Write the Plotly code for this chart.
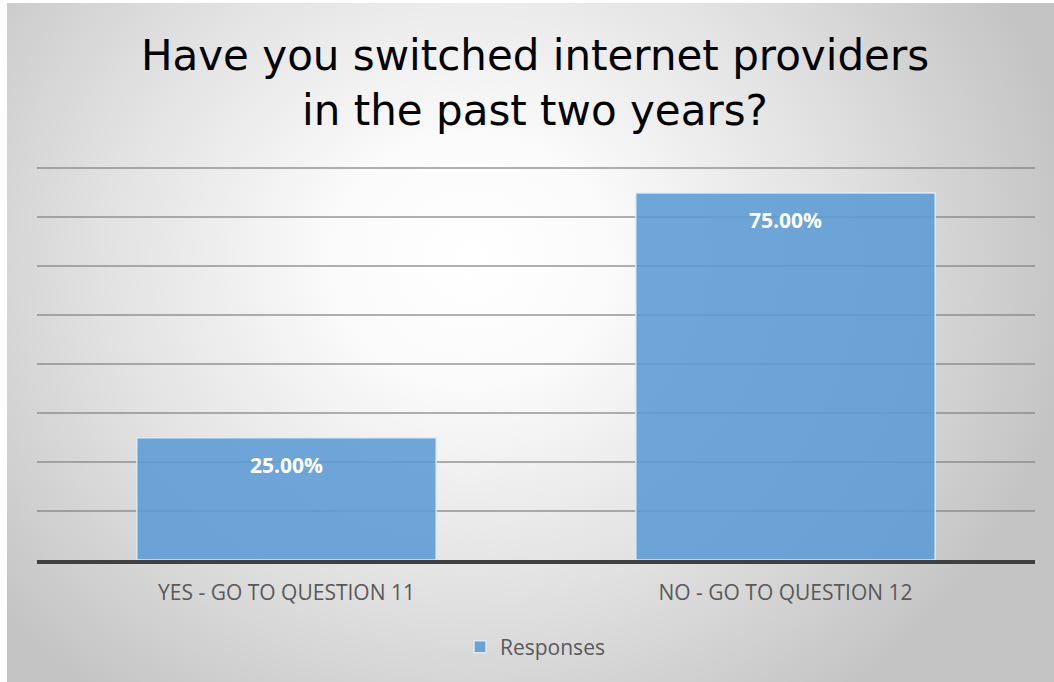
import base64
import plotly.graph_objects as go

# Survey data
categories = ["YES - GO TO QUESTION 11", "NO - GO TO QUESTION 12"]
responses = [0.25, 0.75]
series_name = "Responses"
title_text = "Have you switched internet providers<br>in the past two years?"
y_ticks = [0.0, 0.1, 0.2, 0.3, 0.4, 0.5, 0.6, 0.7, 0.8]

W, H = 1054, 682
BODY_FONT = "Open Sans, Lato, sans-serif"

# Radial-gradient backdrop for the chart area
bg_svg = f"""<svg xmlns='http://www.w3.org/2000/svg' width='{W}' height='{H}' viewBox='0 0 {W} {H}'>
<defs>
<radialGradient id='g' gradientUnits='userSpaceOnUse' cx='470' cy='260' r='580'
  gradientTransform='translate(470 260) scale(1.05 0.95) translate(-470 -260)'>
<stop offset='0' stop-color='#ffffff'/>
<stop offset='0.22' stop-color='#fbfbfb'/>
<stop offset='0.6' stop-color='#e2e2e2'/>
<stop offset='1' stop-color='#c4c4c4'/>
</radialGradient>
</defs>
<rect x='0' y='0' width='{W}' height='{H}' fill='#ffffff'/>
<rect x='7' y='3' width='{W - 7}' height='{H - 3}' fill='url(#g)'/>
</svg>"""
bg_uri = "data:image/svg+xml;base64," + base64.b64encode(bg_svg.encode()).decode()

fig = go.Figure()
fig.add_trace(go.Bar(
    x=categories,
    y=responses,
    name=series_name,
    width=0.6,
    marker=dict(color="rgba(91,155,213,0.88)",
                line=dict(color="rgba(225,236,248,0.9)", width=1.5)),
    showlegend=True,
    hoverinfo="x+y",
))

# Value labels near the top of each bar
for cat, val in zip(categories, responses):
    fig.add_annotation(
        x=cat, y=val, xref="x", yref="y",
        text=f"{val * 100:.2f}%",
        showarrow=False, yanchor="middle", yshift=-27,
        font=dict(family=BODY_FONT, size=21, color="white", weight="bold"),
    )

fig.update_layout(
    width=W, height=H,
    margin=dict(l=0, r=0, t=0, b=0),
    paper_bgcolor="white",
    plot_bgcolor="rgba(0,0,0,0)",
    images=[dict(source=bg_uri, xref="paper", yref="paper", x=0, y=1,
                 sizex=1, sizey=1, sizing="stretch", layer="below",
                 xanchor="left", yanchor="top")],
    title=dict(text=title_text, x=535 / W, xanchor="center",
               y=1 - 70 / H, yanchor="middle",
               font=dict(family="DejaVu Sans, Liberation Sans, sans-serif",
                         size=42, color="black")),
    xaxis=dict(domain=[37 / W, 1035 / W], showgrid=False,
               showline=True, linecolor="#404040", linewidth=4,
               ticks="", ticklabelstandoff=11,
               tickfont=dict(family=BODY_FONT, size=21, color="#595959")),
    yaxis=dict(domain=[1 - 560 / H, 1 - 166 / H], range=[0, 0.805],
               tickvals=y_ticks, showticklabels=False,
               showgrid=True, gridcolor="rgba(125,125,125,0.6)", gridwidth=1.5,
               zeroline=False, showline=False),
    legend=dict(orientation="h", x=535 / W, xanchor="center",
                y=1 - 647 / H, yanchor="middle",
                bgcolor="rgba(0,0,0,0)",
                font=dict(family=BODY_FONT, size=21, color="#595959")),
    bargap=0.4,
)

fig.write_html("out.html")
